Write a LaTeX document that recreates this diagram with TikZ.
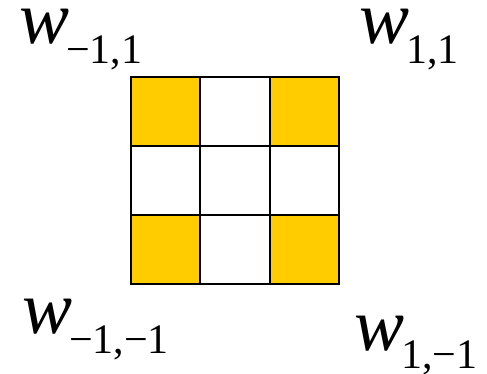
\documentclass[tikz,border=0pt]{standalone}
\usepackage{fontspec}
\setmainfont{Liberation Serif}
\definecolor{gold}{HTML}{FFCC00}
\newcommand\wsub[2][20pt]{\kern-3pt\raisebox{-#1}{\upshape\fontsize{42}{42}\selectfont #2}}
\begin{document}
\begin{tikzpicture}[x=1pt,y=-1pt,
  lbl/.style={anchor=base west, inner sep=0pt, outer sep=0pt, font=\fontsize{75}{75}\selectfont\itshape},
  cell/.style={draw=black, line width=2pt, minimum width=69.33pt, minimum height=69pt, inner sep=0pt, outer sep=0pt},
  hot/.style={cell, fill=gold}]
\useasboundingbox (0,0) rectangle (487,373);
\foreach \r in {0,1,2}{
  \foreach \c in {0,1,2}{
    \pgfmathtruncatemacro{\odd}{mod(\r+\c,2)}
    \ifnum\odd=0 \ifnum\r=1 \def\sty{cell}\else\def\sty{hot}\fi\else\def\sty{cell}\fi
    \node[\sty] (c\r\c) at ({131+69.33*(\c+0.5)},{77+69*(\r+0.5)}) {};
  }
}
\node[lbl] (wtl) at (19,43) {w\wsub{−1,1}};
\node[lbl] (wtr) at (359,43) {w\wsub{1,1}};
\node[lbl] (wbl) at (22,333) {w\wsub{−1,−1}};
\node[lbl] (wbr) at (354,350) {w\wsub[18pt]{1,−1}};
\end{tikzpicture}
\end{document}
